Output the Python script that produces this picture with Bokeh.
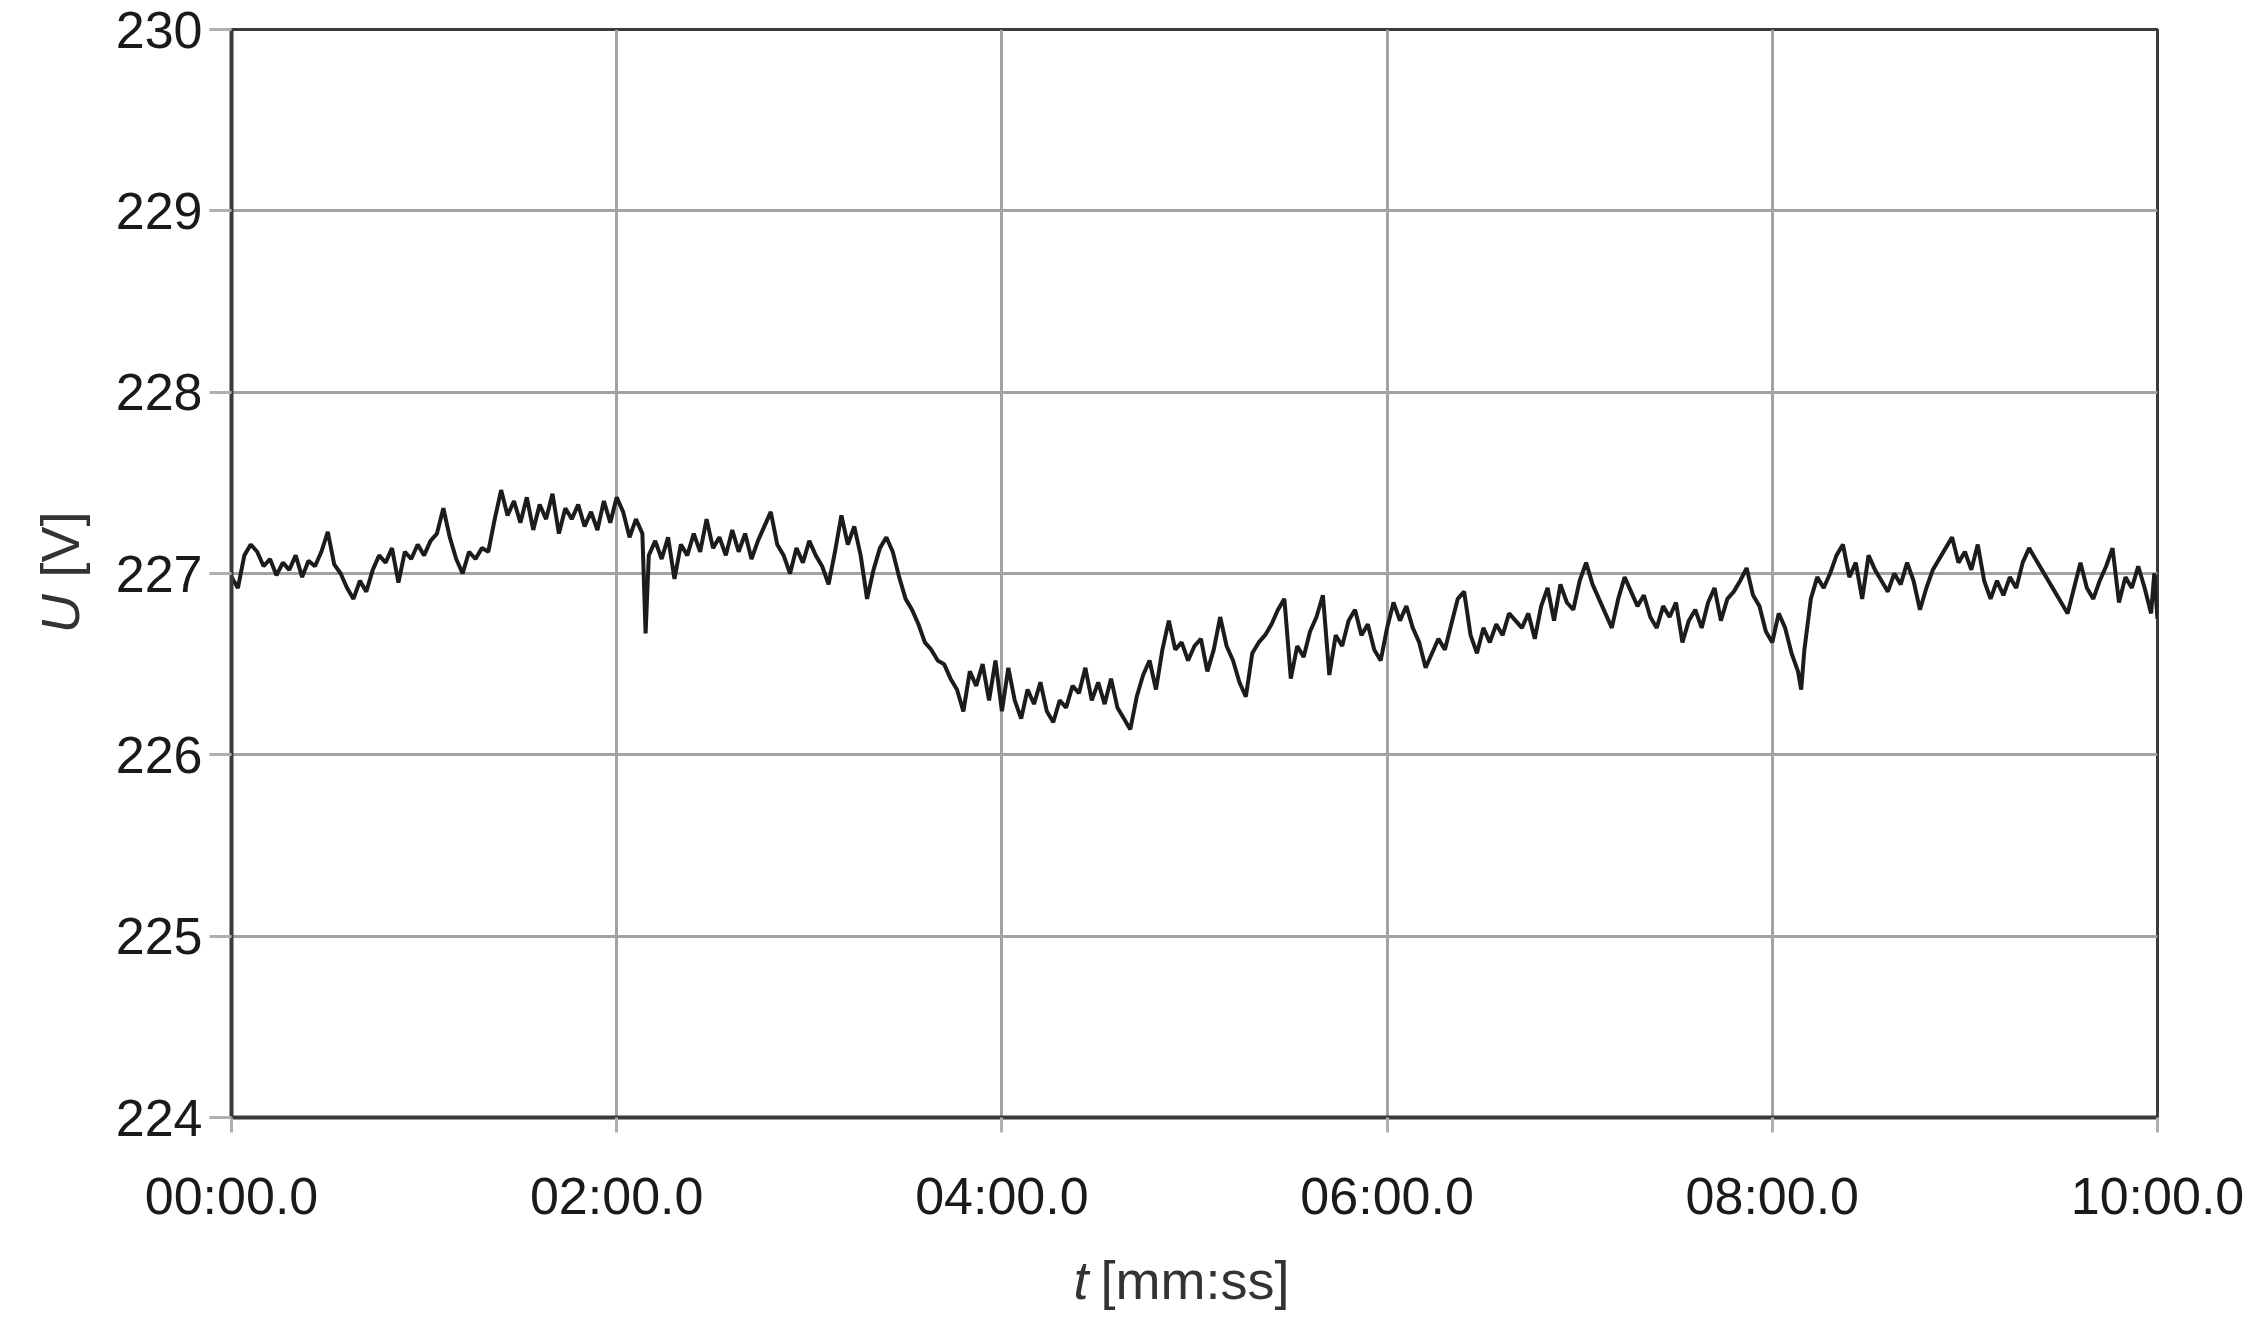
import math
from bokeh.plotting import figure
from bokeh.models import Range1d, FixedTicker
from bokeh.layouts import row, column
from bokeh.core.properties import value
from bokeh.embed import file_html
from bokeh.resources import INLINE

# ---- data ----
time_s = [
    0, 2, 4, 6, 8, 10, 12, 14, 16, 18,
    20, 22, 24, 26, 28, 30, 32, 34, 36, 38,
    40, 42, 44, 46, 48, 50, 52, 54, 56, 58,
    60, 62, 64, 66, 68, 70, 72, 74, 76, 78,
    80, 82, 84, 86, 88, 90, 92, 94, 96, 98,
    100, 102, 104, 106, 108, 110, 112, 114, 116, 118,
    120, 122, 124, 126, 128, 129,
    130, 132, 134, 136, 138, 140, 142, 144, 146, 148,
    150, 152, 154, 156, 158, 160, 162, 164, 166, 168,
    170, 172, 174, 176, 178, 180, 182, 184, 186, 188,
    190, 192, 194, 196, 198, 200, 202, 204, 206, 208,
    210, 212, 214, 216, 218, 220, 222, 224, 226, 228,
    230, 232, 234, 236, 238, 240, 242, 244, 246, 248,
    250, 252, 254, 256, 258, 260, 262, 264, 266, 268,
    270, 272, 274, 276, 278, 280, 282, 284, 286, 288,
    290, 292, 294, 296, 298, 300, 302, 304, 306, 308,
    310, 312, 314, 316, 318, 320, 322, 324, 326, 328,
    330, 332, 334, 336, 338, 340, 342, 344, 346, 348,
    350, 352, 354, 356, 358, 360, 362, 364, 366, 368,
    370, 372, 374, 376, 378, 380, 382, 384, 386, 388,
    390, 392, 394, 396, 398, 400, 402, 404, 406, 408,
    410, 412, 414, 416, 418, 420, 422, 424, 426, 428,
    430, 432, 434, 436, 438, 440, 442, 444, 446, 448,
    450, 452, 454, 456, 458, 460, 462, 464, 466, 468,
    470, 472, 474, 476, 478, 480, 482, 484, 486, 488, 489,
    490, 492, 494, 496, 498, 500, 502, 504, 506, 508,
    510, 512, 514, 516, 518, 520, 522, 524, 526, 528,
    530, 532, 534, 536, 538, 540, 542, 544, 546, 548,
    550, 552, 554, 556, 558, 560, 562, 564, 566, 568,
    570, 572, 574, 576, 578, 580, 582, 584, 586, 588,
    590, 592, 594, 596, 598, 599, 600,
]

voltage = [
    226.98, 226.92, 227.10, 227.16, 227.12, 227.04, 227.08, 226.99, 227.06, 227.02,
    227.10, 226.98, 227.07, 227.04, 227.12, 227.23, 227.05, 227.00, 226.92, 226.86,
    226.96, 226.90, 227.02, 227.10, 227.06, 227.14, 226.95, 227.12, 227.08, 227.16,
    227.10, 227.18, 227.22, 227.36, 227.20, 227.08, 227.00, 227.12, 227.08, 227.14,
    227.12, 227.30, 227.46, 227.32, 227.40, 227.28, 227.42, 227.24, 227.38, 227.30,
    227.44, 227.22, 227.36, 227.30, 227.38, 227.26, 227.34, 227.24, 227.40, 227.28,
    227.42, 227.34, 227.20, 227.30, 227.22, 226.67,
    227.10, 227.18, 227.08, 227.20, 226.97, 227.16, 227.10, 227.22, 227.12, 227.30,
    227.14, 227.20, 227.10, 227.24, 227.12, 227.22, 227.08, 227.18, 227.26, 227.34,
    227.16, 227.10, 227.00, 227.14, 227.06, 227.18, 227.10, 227.04, 226.94, 227.12,
    227.32, 227.16, 227.26, 227.10, 226.86, 227.02, 227.14, 227.20, 227.12, 226.98,
    226.86, 226.80, 226.72, 226.62, 226.58, 226.52, 226.50, 226.42, 226.36, 226.24,
    226.46, 226.38, 226.50, 226.30, 226.52, 226.24, 226.48, 226.30, 226.20, 226.36,
    226.28, 226.40, 226.24, 226.18, 226.30, 226.26, 226.38, 226.34, 226.48, 226.30,
    226.40, 226.28, 226.42, 226.26, 226.20, 226.14, 226.32, 226.44, 226.52, 226.36,
    226.58, 226.74, 226.58, 226.62, 226.52, 226.60, 226.64, 226.46, 226.58, 226.76,
    226.60, 226.52, 226.40, 226.32, 226.56, 226.62, 226.66, 226.72, 226.80, 226.86,
    226.42, 226.60, 226.54, 226.68, 226.76, 226.88, 226.44, 226.66, 226.60, 226.74,
    226.80, 226.66, 226.72, 226.58, 226.52, 226.70, 226.84, 226.74, 226.82, 226.70,
    226.62, 226.48, 226.56, 226.64, 226.58, 226.72, 226.86, 226.90, 226.66, 226.56,
    226.70, 226.62, 226.72, 226.66, 226.78, 226.74, 226.70, 226.78, 226.64, 226.82,
    226.92, 226.74, 226.94, 226.84, 226.80, 226.96, 227.06, 226.94, 226.86, 226.78,
    226.70, 226.86, 226.98, 226.90, 226.82, 226.88, 226.76, 226.70, 226.82, 226.76,
    226.84, 226.62, 226.74, 226.80, 226.70, 226.84, 226.92, 226.74, 226.86, 226.90,
    226.96, 227.03, 226.88, 226.82, 226.68, 226.62, 226.78, 226.70, 226.56, 226.46, 226.36,
    226.58, 226.86, 226.98, 226.92, 227.00, 227.10, 227.16, 226.98, 227.06, 226.86,
    227.10, 227.02, 226.96, 226.90, 227.00, 226.94, 227.06, 226.96, 226.80, 226.92,
    227.02, 227.08, 227.14, 227.20, 227.06, 227.12, 227.02, 227.16, 226.96, 226.86,
    226.96, 226.88, 226.98, 226.92, 227.06, 227.14, 227.08, 227.02, 226.96, 226.90,
    226.84, 226.78, 226.92, 227.06, 226.92, 226.86, 226.96, 227.04, 227.14, 226.84,
    226.98, 226.92, 227.04, 226.92, 226.78, 227.00, 226.75,
]

x_tick_seconds = [0, 120, 240, 360, 480, 600]
x_tick_labels = ["00:00.0", "02:00.0", "04:00.0", "06:00.0", "08:00.0", "10:00.0"]
y_ticks = [224, 225, 226, 227, 228, 229, 230]

x_title_var = "t"
x_title_unit = "[mm:ss]"
y_title_var = "U"
y_title_unit = "[V]"

FONT = "Liberation Sans"
TITLE_COLOR = "#333333"

# ---------------- layout sizes ----------------
YT_W = 110          # strip holding the y-axis title
MAIN_W = 2142
MAIN_H = 1237
XT_H = 75           # strip holding the x-axis title

# ---------------- main plot ----------------
p = figure(width=MAIN_W, height=MAIN_H, output_backend="svg", toolbar_location=None,
           x_range=Range1d(x_tick_seconds[0], x_tick_seconds[-1]),
           y_range=Range1d(y_ticks[0], y_ticks[-1]),
           min_border_left=121, min_border_right=95, min_border_top=29,
           min_border_bottom=MAIN_H - 29 - 1088)

p.background_fill_color = "white"
p.border_fill_color = "white"
p.outline_line_color = "#3a3a3a"
p.outline_line_width = 3

p.line(time_s, voltage, line_color="#1c1c1c", line_width=4)

for g in (p.xgrid, p.ygrid):
    g.grid_line_color = "#a2a2a2"
    g.grid_line_width = 3
p.xgrid.ticker = FixedTicker(ticks=x_tick_seconds)
p.ygrid.ticker = FixedTicker(ticks=y_ticks)

xa = p.xaxis[0]
ya = p.yaxis[0]
xa.ticker = FixedTicker(ticks=x_tick_seconds)
xa.major_label_overrides = {t: lab for t, lab in zip(x_tick_seconds, x_tick_labels)}
ya.ticker = FixedTicker(ticks=y_ticks)
for ax in (xa, ya):
    ax.axis_line_color = "#3a3a3a"
    ax.axis_line_width = 4
    ax.major_tick_line_color = "#b0b0b0"
    ax.major_tick_line_width = 3
    ax.major_tick_in = 0
    ax.minor_tick_line_color = None
    ax.major_label_text_font = FONT
    ax.major_label_text_font_size = "52px"
    ax.major_label_text_color = "#1a1a1a"
xa.major_tick_out = 15
xa.major_label_standoff = 34
ya.major_tick_out = 22
ya.major_label_standoff = 7


def strip(w, h):
    f = figure(width=w, height=h, output_backend="svg", toolbar_location=None,
               x_range=Range1d(0, w), y_range=Range1d(0, h),
               x_axis_type=None, y_axis_type=None,
               min_border_left=0, min_border_right=0, min_border_top=0, min_border_bottom=0)
    f.outline_line_color = None
    f.xgrid.visible = False
    f.ygrid.visible = False
    f.background_fill_color = "white"
    f.border_fill_color = "white"
    return f


# ---------------- y-axis title strip ----------------
ys = strip(YT_W, MAIN_H)
ys.text(x=[59], y=[MAIN_H - 642], text=[y_title_var], angle=math.pi / 2,
        text_align="right", text_baseline="middle", text_font=value(FONT),
        text_font_style=value("italic"), text_font_size=value("54px"), text_color=TITLE_COLOR)
ys.text(x=[59], y=[MAIN_H - 623], text=[y_title_unit], angle=math.pi / 2,
        text_align="left", text_baseline="middle", text_font=value(FONT),
        text_font_size=value("54px"), text_color=TITLE_COLOR)

# ---------------- x-axis title strip ----------------
xs = strip(YT_W + MAIN_W, XT_H)
xs.text(x=[1088], y=[XT_H - 42], text=[x_title_var],
        text_align="right", text_baseline="alphabetic", text_font=value(FONT),
        text_font_style=value("italic"), text_font_size=value("54px"), text_color=TITLE_COLOR)
xs.text(x=[1100], y=[XT_H - 42], text=[x_title_unit],
        text_align="left", text_baseline="alphabetic", text_font=value(FONT),
        text_font_size=value("54px"), text_color=TITLE_COLOR)

layout = column(row(ys, p, spacing=0), xs, spacing=0)

open("out.html", "w").write(file_html(layout, INLINE))
